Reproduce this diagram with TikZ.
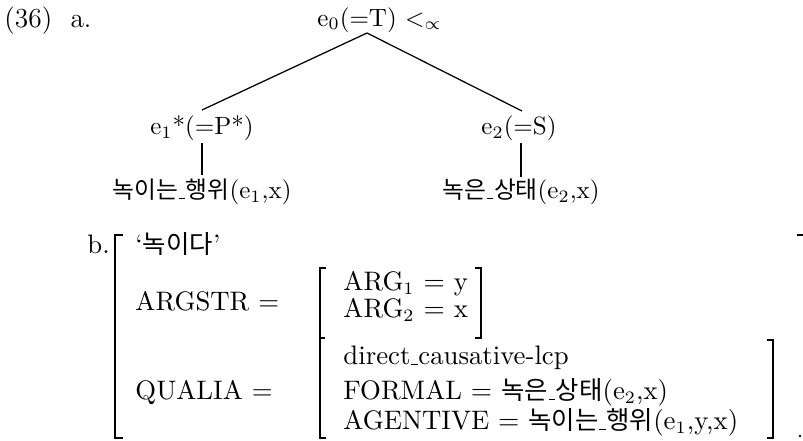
\documentclass[tikz,border=0pt]{standalone}
\usepackage{fontspec}
\newfontfamily\kr{Noto Sans CJK KR}[Scale=0.95]
\newcommand\us{\kern0.3pt\rule[-0.3pt]{2.6pt}{0.45pt}\kern0.3pt}
\begin{document}
\begin{tikzpicture}[x=0.4pt,y=-0.4pt,
  every node/.style={inner sep=0pt},
  txt/.style={anchor=base west},
  big/.style={font=\fontsize{10.7}{13}\selectfont},
  ln/.style={line width=0.5pt},
  brk/.style={line width=0.6pt}]
\useasboundingbox (0,0) rectangle (803,441);
% (a) tree
\node[txt,font=\fontsize{11}{13}\selectfont] (num) at (4,27) {(36)};
\node[txt,font=\fontsize{11}{13}\selectfont] (a) at (70,27) {a.};
\node[txt] (top) at (317,26) {e$_0$(=T) $<_\propto$};
\coordinate (apex) at (367,33);
\node (e1) at (202,128) {e$_1$*(=P*)};
\node (e2) at (519,128) {e$_2$(=S)};
\coordinate (e1top) at (202,110);
\coordinate (e2top) at (522,111);
\draw[ln] (apex) -- (e1top);
\draw[ln] (apex) -- (e2top);
\node (l1) at (202,192) {{\kr 녹이는}\us{\kr 행위}(e$_1$,x)};
\node (l2) at (521,192) {{\kr 녹은}\us{\kr 상태}(e$_2$,x)};
\coordinate (e1b) at (202,143);
\coordinate (l1t) at (202,175);
\coordinate (e2b) at (521,143);
\coordinate (l2t) at (521,177);
\draw[ln] (e1b) -- (l1t);
\draw[ln] (e2b) -- (l2t);
% (b) structure
\node[txt,big] (b) at (87,253) {b.};
\node[txt,big] (lex) at (135,253) {`{\kr 녹이다}'};
\node[txt,big] (argstr) at (135,310) {ARGSTR =};
\node[txt,big] (arg1) at (343,290) {ARG$_1$ $=$ y};
\node[txt,big] (arg2) at (343,317) {ARG$_2$ $=$ x};
\node[txt,big] (qualia) at (135,399) {QUALIA =};
\node[txt,big] (dc) at (343,364) {direct\us causative-lcp};
\node[txt,big] (formal) at (343,399) {FORMAL $=$ {\kr 녹은}\us{\kr 상태}(e$_2$,x)};
\node[txt,big] (agent) at (343,429) {AGENTIVE $=$ {\kr 녹이는}\us{\kr 행위}(e$_1$,y,x)};
% brackets
\draw[brk] (123,235) -- (115,235) -- (115,438) -- (123,438);
\draw[brk] (326,268) -- (320,268) -- (320,438) -- (326,438);
\draw[brk] (320,338) -- (325,338);
\draw[brk] (475,268) -- (481,268) -- (481,338) -- (475,338);
\draw[brk] (767,340) -- (773,340) -- (773,438) -- (767,438);
\draw[brk] (797,235) -- (803,235);
\fill (800,436) circle (1.3);
\end{tikzpicture}
\end{document}
